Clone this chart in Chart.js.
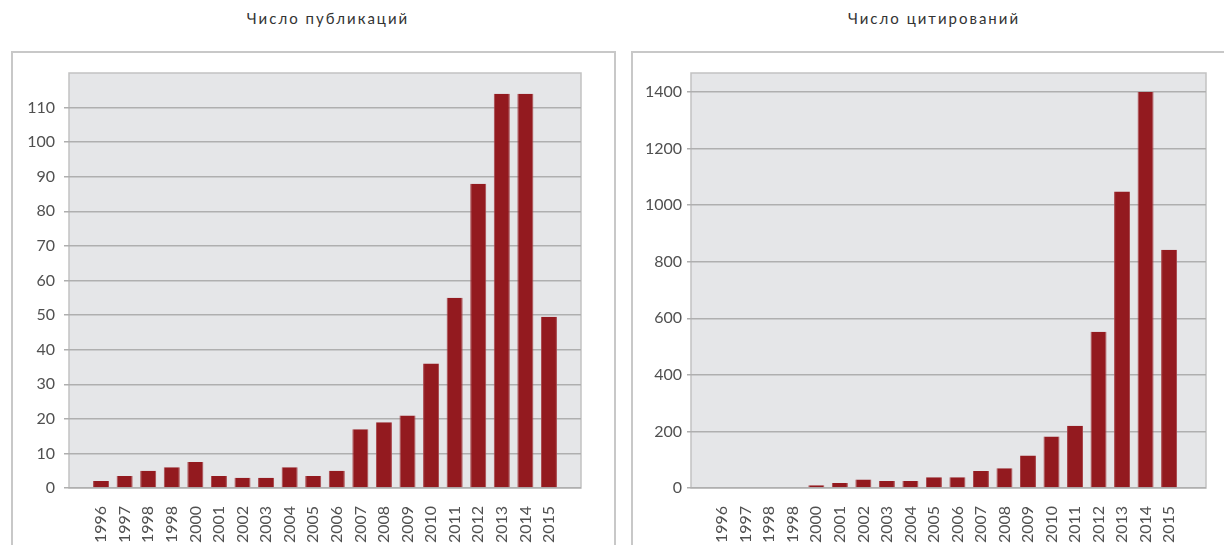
<!DOCTYPE html>
<html>
<head>
<meta charset="utf-8">
<script src="https://cdn.jsdelivr.net/npm/chart.js"></script>
<style>
    body { margin: 0; width: 1224px; height: 545px; overflow: hidden; background: #fff; position: relative; font-family: Lato, sans-serif; }
    .box { position: absolute; top: 51px; height: 520px; border: 2px solid #c8c8c8; box-sizing: border-box; }
    .title { position: absolute; top: 9px; font-size: 15px; letter-spacing: 2px; color: #333; transform: translateX(-50%); white-space: nowrap; }
    canvas { position: absolute; top: 40px; }
</style>
</head>
<body>
<div class="box" style="left:11px; width:605px;"></div>
<div class="box" style="left:631px; width:620px;"></div>
<div class="title" style="left:328px;">Число публикаций</div>
<div class="title" style="left:934px;">Число цитирований</div>
<canvas id="pubChart" width="620" height="505" style="left:0px;"></canvas>
<canvas id="citChart" width="604" height="505" style="left:620px;"></canvas>
<script>
// years as printed on the original (1999 is labelled 1998 there)
const years = ['1996', '1997', '1998', '1998', '2000', '2001', '2002', '2003', '2004', '2005',
               '2006', '2007', '2008', '2009', '2010', '2011', '2012', '2013', '2014', '2015'];
const publications = [2, 3.5, 5, 6, 7.5, 3.5, 3, 3, 6, 3.5, 5, 17, 19, 21, 36, 55, 88, 114, 114, 49.5];
const citations = [0, 0, 0, 0, 10, 18, 30, 25, 25, 38, 38, 60, 70, 115, 182, 220, 552, 1048, 1400, 842];

const BAR_COLOR = '#931a1f';
const TEXT_COLOR = '#505050';

// grey plot background with thin frame
const plotFrame = {
    id: 'plotFrame',
    beforeDraw(chart) {
        const { ctx, chartArea: a } = chart;
        ctx.save();
        ctx.fillStyle = '#e5e6e8';
        ctx.fillRect(a.left, a.top, a.right - a.left, a.bottom - a.top);
        ctx.strokeStyle = '#c2c2c2';
        ctx.lineWidth = 1.5;
        ctx.strokeRect(a.left, a.top, a.right - a.left, a.bottom - a.top);
        ctx.restore();
    }
};

function makeChart(id, values, cfg) {
    const ctx = document.getElementById(id).getContext('2d');
    return new Chart(ctx, {
        type: 'bar',
        data: {
            datasets: [{
                data: values.map((v, i) => ({ x: i, y: v })),
                backgroundColor: BAR_COLOR,
                borderColor: '#a8454a',
                borderWidth: { left: 1, right: 1, top: 0, bottom: 0 },
                barPercentage: 0.68,
                categoryPercentage: 1
            }]
        },
        options: {
            responsive: false,
            animation: false,
            devicePixelRatio: 1,
            layout: { padding: { top: 33, right: cfg.padRight, left: 0, bottom: 0 } },
            plugins: { legend: { display: false }, tooltip: { enabled: false } },
            scales: {
                x: {
                    type: 'linear',
                    offset: false,
                    min: cfg.xMin,
                    max: cfg.xMax,
                    grid: { display: false },
                    border: { display: false },
                    afterBuildTicks: scale => { scale.ticks = years.map((y, i) => ({ value: i })); },
                    afterFit: scale => { scale.height = 57; },
                    ticks: {
                        autoSkip: false,
                        minRotation: 90,
                        maxRotation: 90,
                        padding: 10,
                        color: TEXT_COLOR,
                        font: { family: 'Lato', size: 16 },
                        callback: v => years[v]
                    }
                },
                y: {
                    min: 0,
                    max: cfg.yMax,
                    grid: { color: '#afafaf', lineWidth: 1.5, tickLength: cfg.tickLen, tickColor: '#afafaf' },
                    border: { display: false },
                    afterBuildTicks: scale => {
                        scale.ticks = scale.ticks.filter(t => t.value % cfg.step === 0 && t.value < cfg.yMax);
                    },
                    afterFit: scale => { scale.width = cfg.axisWidth; },
                    ticks: {
                        stepSize: cfg.step,
                        padding: cfg.labelPad,
                        color: TEXT_COLOR,
                        font: { family: 'Lato', size: 16 },
                        callback: v => String(v)
                    }
                }
            }
        },
        plugins: [plotFrame]
    });
}

makeChart('pubChart', publications, {
    xMin: -1.36, xMax: 20.36, yMax: 120, step: 10,
    padRight: 39, axisWidth: 69, tickLen: 5, labelPad: 9
});

makeChart('citChart', citations, {
    xMin: -1.33, xMax: 20.57, yMax: 1467, step: 200,
    padRight: 18, axisWidth: 71, tickLen: 4, labelPad: 5
});
</script>
</body>
</html>
